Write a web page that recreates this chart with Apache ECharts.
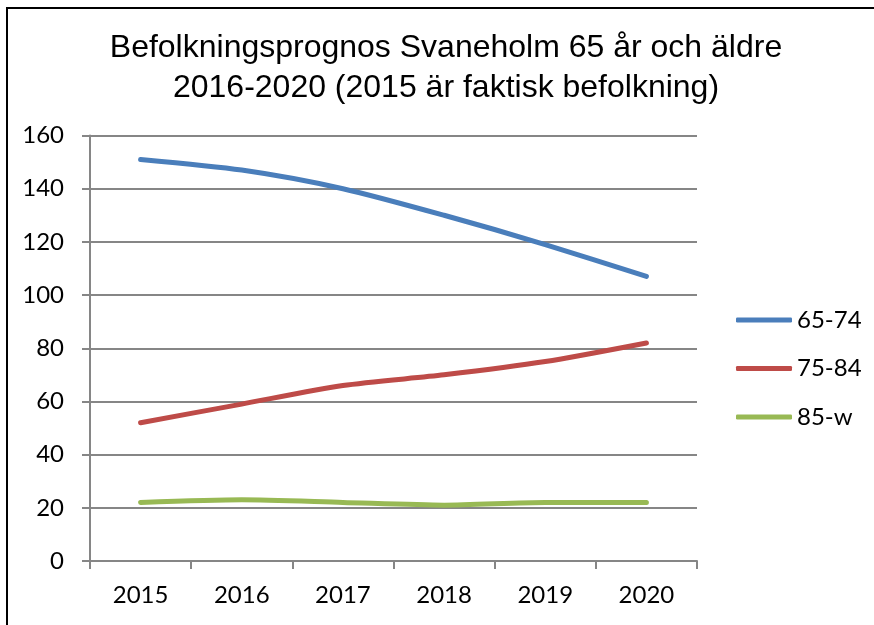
<!DOCTYPE html>
<html>
<head>
<meta charset="utf-8">
<script src="https://cdn.jsdelivr.net/npm/echarts@6/dist/echarts.min.js"></script>
<style>
  html, body { margin: 0; padding: 0; background: #fff; }
  #chart { position: absolute; left: 0; top: 0; width: 874px; height: 625px; }
  #frame { position: absolute; left: 6px; top: 7px; width: 870px; height: 620px;
           border-left: 2px solid #000; border-top: 2px solid #000; pointer-events: none; }
</style>
</head>
<body>
<div id="chart"></div>
<div id="frame"></div>
<script>
const years = ['2015', '2016', '2017', '2018', '2019', '2020'];
const age65to74 = [151, 147, 140, 130, 119, 107];
const age75to84 = [52, 59, 66, 70, 75, 82];
const age85up = [22, 23, 22, 21, 22, 22];
const titleText = 'Befolkningsprognos Svaneholm 65 år och äldre\n2016-2020 (2015 är faktisk befolkning)';

const labelFont = 'Lato, "Open Sans", sans-serif';
const gridColor = '#868686';

const chart = echarts.init(document.getElementById('chart'));

const line = (name, data, color) => ({
  name: name,
  type: 'line',
  data: data,
  smooth: 0.25,
  symbol: 'none',
  lineStyle: { width: 5, color: color, cap: 'round' },
  itemStyle: { color: color }
});

chart.setOption({
  animation: false,
  // title as a graphic so it can sit slightly right of the canvas centre
  graphic: [{
    type: 'text',
    x: 446,
    y: 28,
    style: {
      text: titleText,
      align: 'center',
      verticalAlign: 'top',
      fontFamily: '"Liberation Sans", Arial, sans-serif',
      fontSize: 32,
      lineHeight: 40,
      fill: '#000'
    }
  }],
  legend: {
    orient: 'vertical',
    left: 731,
    top: 303,
    itemWidth: 56,
    itemHeight: 5,
    itemGap: 24.5,
    icon: 'roundRect',
    textStyle: { fontFamily: labelFont, fontSize: 24, color: '#000', lineHeight: 24 },
    data: ['65-74', '75-84', '85-w']
  },
  grid: { left: 90, right: 177, top: 135.5, bottom: 64, containLabel: false },
  xAxis: {
    type: 'category',
    data: years,
    boundaryGap: true,
    axisLine: { lineStyle: { color: gridColor, width: 2 } },
    axisTick: { show: true, length: 8, lineStyle: { color: gridColor, width: 2 } },
    axisLabel: { fontFamily: labelFont, fontSize: 24, color: '#000', margin: 22 }
  },
  yAxis: {
    type: 'value',
    min: 0,
    max: 160,
    interval: 20,
    axisLine: { show: true, lineStyle: { color: gridColor, width: 2 } },
    axisTick: { show: true, length: 8, lineStyle: { color: gridColor, width: 2 } },
    splitLine: { lineStyle: { color: gridColor, width: 2 } },
    axisLabel: { fontFamily: labelFont, fontSize: 24, color: '#000', margin: 26 }
  },
  series: [
    line('65-74', age65to74, '#4A7EBB'),
    line('75-84', age75to84, '#BE4B48'),
    line('85-w', age85up, '#98B954')
  ]
});
</script>
</body>
</html>
